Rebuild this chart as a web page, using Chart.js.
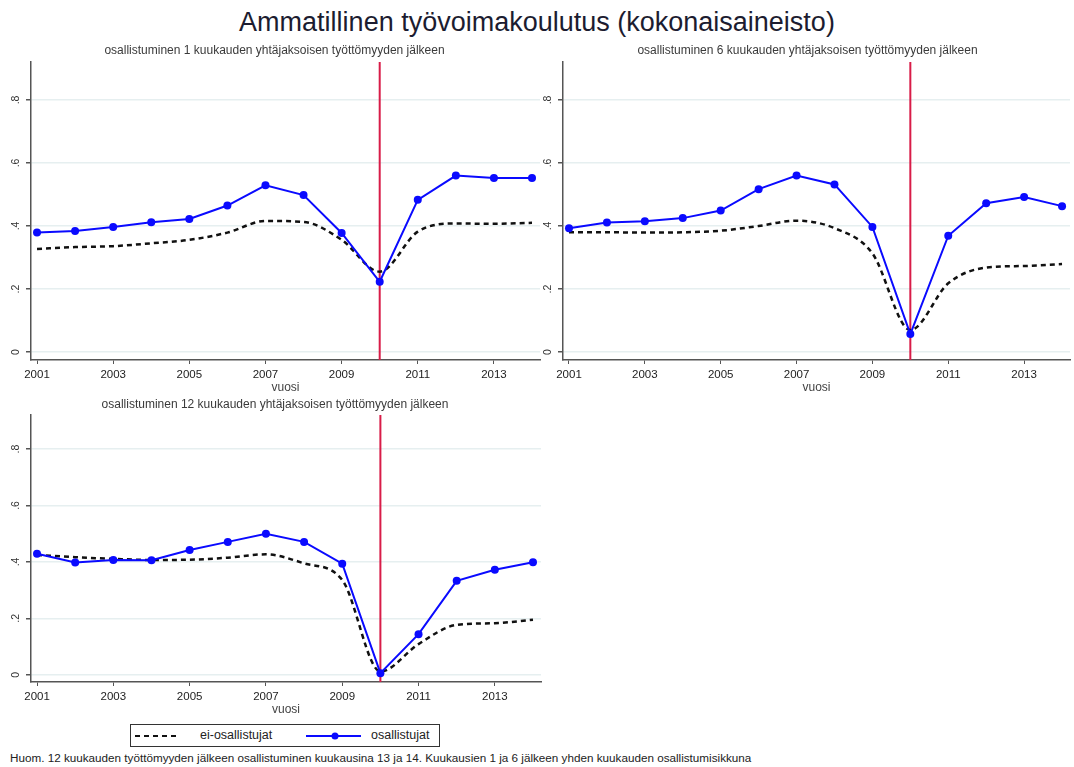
<!DOCTYPE html>
<html lang="fi">
<head>
  <meta charset="UTF-8" />
  <title>Ammatillinen työvoimakoulutus (kokonaisaineisto)</title>
  <script src="https://cdn.jsdelivr.net/npm/chart.js"></script>
  <style>
    body {
      margin: 0;
      background: #fff;
      font-family: "Liberation Sans", Arial, sans-serif;
    }
    #page {
      position: relative;
      width: 1074px;
      height: 767px;
      overflow: hidden;
    }
    h1 {
      position: absolute;
      left: 0;
      top: 7px;
      width: 1074px;
      margin: 0;
      text-align: center;
      font-weight: normal;
      font-size: 27px;
      color: #1c1c30;
    }
    canvas { position: absolute; }
    .legend {
      position: absolute;
      left: 130px;
      top: 724px;
      width: 310px;
      height: 23px;
      border: 1px solid #333;
      box-sizing: border-box;
      font-size: 12.5px;
      color: #222;
    }
    .legend span, .legend svg { position: absolute; }
    .note {
      position: absolute;
      left: 10px;
      top: 751px;
      font-size: 11.7px;
      color: #222;
      white-space: nowrap;
    }
  </style>
</head>
<body>
<div id="page">
  <h1>Ammatillinen työvoimakoulutus (kokonaisaineisto)</h1>

  <canvas id="p1" width="545" height="355" style="left:0;top:40px"></canvas>
  <canvas id="p2" width="542" height="355" style="left:532px;top:40px"></canvas>
  <canvas id="p3" width="545" height="322" style="left:0;top:395px"></canvas>

  <div class="legend">
    <svg width="42" height="6" style="left:4px;top:8px"><line x1="0" y1="3" x2="42" y2="3" stroke="#111" stroke-width="2" stroke-dasharray="5,4"/></svg>
    <span style="left:69px;top:3px">ei-osallistujat</span>
    <svg width="55" height="10" style="left:175px;top:6px"><line x1="0" y1="5" x2="55" y2="5" stroke="#0a0aff" stroke-width="2"/><circle cx="29" cy="5" r="3.5" fill="#0a0aff"/></svg>
    <span style="left:240px;top:3px">osallistujat</span>
  </div>

  <div class="note">Huom. 12 kuukauden työttömyyden jälkeen osallistuminen kuukausina 13 ja 14. Kuukausien 1 ja 6 jälkeen yhden kuukauden osallistumisikkuna</div>
</div>

<script>
  // vuodet ja akselit
  const years = [2001, 2002, 2003, 2004, 2005, 2006, 2007, 2008, 2009, 2010, 2011, 2012, 2013, 2014];
  const xTicks = [2001, 2003, 2005, 2007, 2009, 2011, 2013];
  const yTicks = [0, 0.2, 0.4, 0.6, 0.8];
  const yTickLabels = ["0", ".2", ".4", ".6", ".8"];
  const cutYear = 2010;

  // 1 kk
  const eiOsall1 = [0.327, 0.333, 0.336, 0.345, 0.356, 0.379, 0.416, 0.413, 0.356, 0.255, 0.382, 0.408, 0.407, 0.410];
  const osall1   = [0.379, 0.384, 0.397, 0.412, 0.422, 0.465, 0.529, 0.498, 0.378, 0.223, 0.483, 0.560, 0.552, 0.552];
  // 6 kk
  const eiOsall6 = [0.380, 0.380, 0.379, 0.380, 0.385, 0.400, 0.417, 0.393, 0.313, 0.070, 0.218, 0.268, 0.273, 0.279];
  const osall6   = [0.393, 0.411, 0.415, 0.425, 0.449, 0.517, 0.560, 0.532, 0.397, 0.057, 0.369, 0.472, 0.492, 0.463];
  // 12 kk
  const eiOsall12 = [0.425, 0.417, 0.411, 0.407, 0.408, 0.415, 0.427, 0.395, 0.336, 0.012, 0.109, 0.177, 0.183, 0.195];
  const osall12   = [0.429, 0.398, 0.407, 0.406, 0.442, 0.471, 0.500, 0.471, 0.394, 0.006, 0.144, 0.333, 0.372, 0.399];

  const X_MIN = 2000.842, X_MAX = 2014.21;
  const Y_MIN = -0.0254, Y_MAX = 0.9206;

  const FONT = "'Liberation Sans', Arial, sans-serif";

  function pts(vals) {
    return years.map((y, i) => ({ x: y, y: vals[i] }));
  }

  // padLeft + y-akselin leveys = 31, jolloin akseli pysyy paikallaan ja otsikko siirtyy
  function teePaneeli(id, otsikko, eiOsall, osall, titlePad, padLeft, padRight) {
    new Chart(document.getElementById(id), {
      type: "line",
      data: {
        datasets: [
          {
            label: "osallistujat",
            data: pts(osall),
            borderColor: "#0a0aff",
            backgroundColor: "#0a0aff",
            borderWidth: 2,
            pointRadius: 4,
            pointBackgroundColor: "#0a0aff",
            pointBorderWidth: 0,
            tension: 0
          },
          {
            label: "ei-osallistujat",
            data: pts(eiOsall),
            borderColor: "#111",
            borderWidth: 2.5,
            borderDash: [5, 4],
            pointRadius: 0,
            cubicInterpolationMode: "monotone"
          },
          {
            label: "raja",
            data: [{ x: cutYear, y: Y_MIN }, { x: cutYear, y: Y_MAX }],
            borderColor: "#d81c48",
            borderWidth: 2,
            pointRadius: 0
          }
        ]
      },
      options: {
        responsive: false,
        animation: false,
        layout: { padding: { left: padLeft, right: padRight } },
        plugins: {
          legend: { display: false },
          tooltip: { enabled: false },
          title: {
            display: true,
            text: otsikko,
            color: "#3a3a3a",
            font: { family: FONT, size: 12, weight: "normal" },
            padding: titlePad
          }
        },
        scales: {
          x: {
            type: "linear",
            min: X_MIN,
            max: X_MAX,
            afterBuildTicks: s => { s.ticks = xTicks.map(v => ({ value: v })); },
            afterFit: s => { s.height = 35; },
            grid: { drawOnChartArea: false, tickLength: 4, tickColor: "#555", lineWidth: 1 },
            border: { color: "#555", width: 1.5 },
            ticks: {
              color: "#222",
              font: { family: FONT, size: 11.5 },
              padding: 4,
              maxRotation: 0,
              callback: v => String(v)
            },
            title: {
              display: true,
              text: "vuosi",
              color: "#444",
              font: { family: FONT, size: 12 },
              padding: 0
            }
          },
          y: {
            min: Y_MIN,
            max: Y_MAX,
            afterBuildTicks: s => { s.ticks = yTicks.map(v => ({ value: v })); },
            afterFit: s => { s.width = 31 - padLeft; },
            grid: { color: "#e6eff0", lineWidth: 1.5, tickLength: 5, tickColor: "#555" },
            border: { color: "#555", width: 1.5 },
            ticks: {
              color: "#333",
              font: { family: FONT, size: 10.5 },
              minRotation: 90,
              maxRotation: 90,
              crossAlign: "center",
              padding: 6,
              callback: (v, i) => yTickLabels[i]
            }
          }
        }
      }
    });
  }

  teePaneeli("p1", "osallistuminen 1 kuukauden yhtäjaksoisen työttömyyden jälkeen", eiOsall1, osall1, { top: 3.5, bottom: 4.1 }, 9, 5);
  teePaneeli("p2", "osallistuminen 6 kuukauden yhtäjaksoisen työttömyyden jälkeen", eiOsall6, osall6, { top: 3.5, bottom: 4.1 }, 9, 0);
  teePaneeli("p3", "osallistuminen 12 kuukauden yhtäjaksoisen työttömyyden jälkeen", eiOsall12, osall12, { top: 2.5, bottom: 3.1 }, 9, 4);
</script>
</body>
</html>
